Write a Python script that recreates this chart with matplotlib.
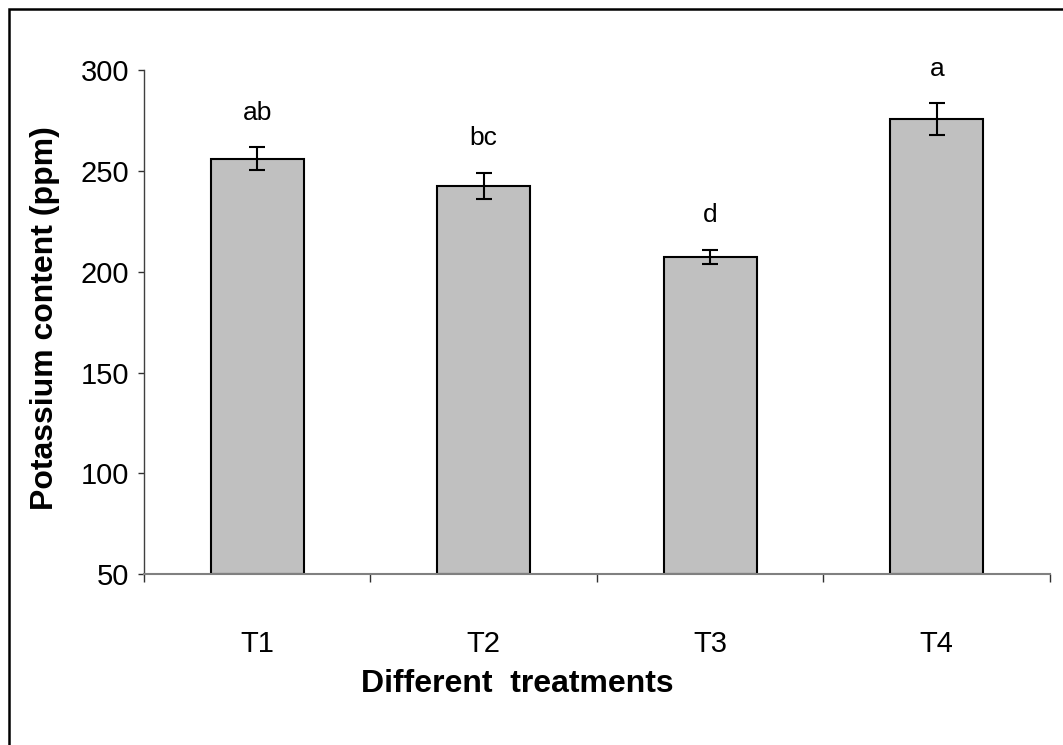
import numpy as np
import matplotlib.pyplot as plt
from matplotlib.patches import Rectangle

# values
treatments = ['T1', 'T2', 'T3', 'T4']
potassium = [256, 242.6, 207.4, 275.7]
errors = [5.8, 6.5, 3.5, 8.0]
letters = ['ab', 'bc', 'd', 'a']

plt.rcParams['font.family'] = ['Liberation Sans', 'DejaVu Sans']

fig = plt.figure(figsize=(10.63, 7.45), dpi=100)
ax = fig.add_axes([0.1353, 0.2291, 0.8525, 0.6769])

x = np.arange(len(treatments))
base = 50
ax.bar(x, np.array(potassium) - base, bottom=base, width=0.41,
       color='#c0c0c0', edgecolor='black', linewidth=1.5, zorder=2)
ax.errorbar(x, potassium, yerr=errors, fmt='none', ecolor='black',
            elinewidth=1.5, capsize=6, capthick=1.5, zorder=3)

# significance letters
for xi, m, e, lab in zip(x, potassium, errors, letters):
    ax.text(xi, m + e + 17, lab, ha='center', va='center', fontsize=19)

ax.set_ylim(50, 300)
ax.set_yticks([50, 100, 150, 200, 250, 300])
ax.set_xlim(-0.5, len(treatments) - 0.5)
ax.set_xticks(np.arange(-0.5, len(treatments), 1.0))
ax.set_xticklabels([])
ax.set_xticks(x, minor=True)
ax.set_xticklabels(treatments, minor=True, fontsize=21)
ax.tick_params(axis='x', which='major', direction='out', length=6, width=1, color='#303030')
ax.tick_params(axis='x', which='minor', length=0, pad=40)
ax.tick_params(axis='y', direction='out', length=4.5, width=1, color='#303030', pad=6,
               labelsize=21)

ax.spines['top'].set_visible(False)
ax.spines['right'].set_visible(False)
ax.spines['left'].set_color('#404040')
ax.spines['bottom'].set_color('#808080')
ax.spines['left'].set_linewidth(1)
ax.spines['bottom'].set_linewidth(1.5)

fig.text(517 / 1063, 1 - 684 / 745, 'Different  treatments', ha='center', va='center',
         fontsize=23, fontweight='bold')
fig.text(45 / 1063, 1 - 318 / 745, 'Potassium content (ppm)', ha='center', va='center',
         rotation=90, fontsize=23, fontweight='bold')

# outer frame around the chart
fig.add_artist(Rectangle((9 / 1063, -0.1), 1.2, 1.1 - 9 / 745, transform=fig.transFigure,
                         fill=False, edgecolor='black', linewidth=1.8))

fig.savefig('out.png', dpi=100)
